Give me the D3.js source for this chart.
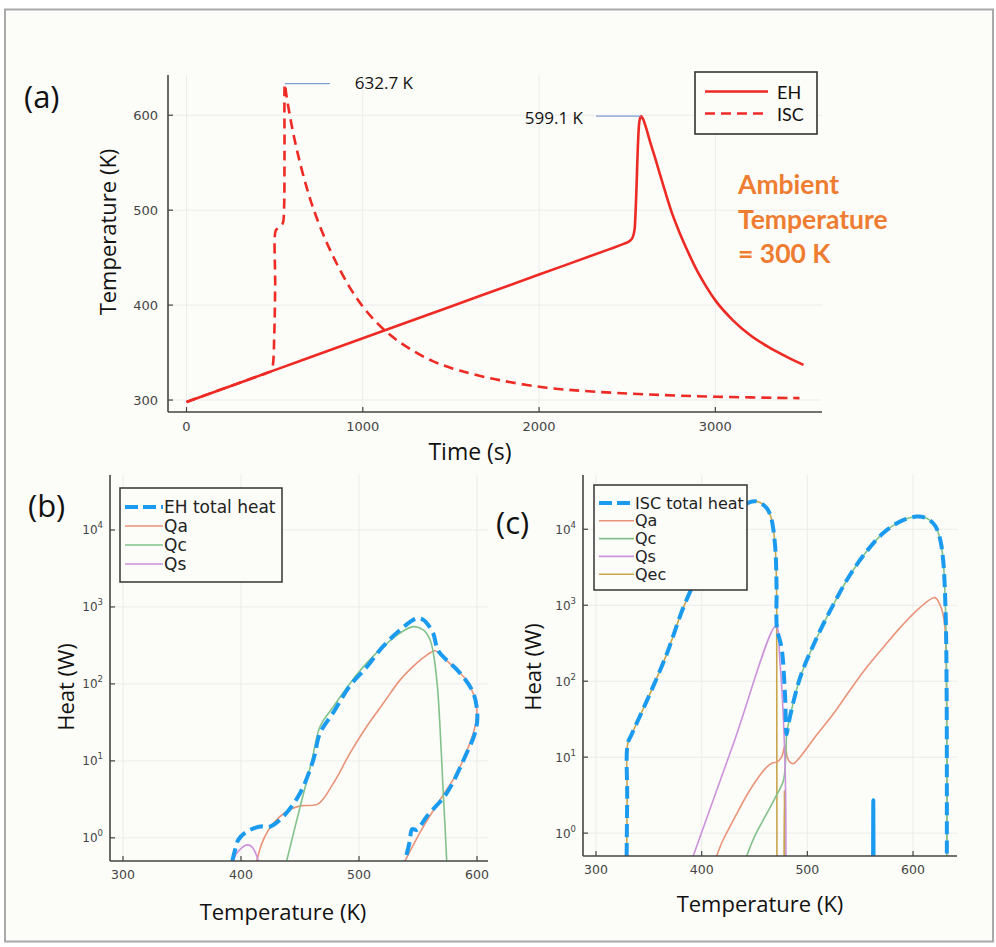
<!DOCTYPE html>
<html><head><meta charset="utf-8">
<script src="https://cdn.jsdelivr.net/npm/d3@7"></script>
<style>body{margin:0;background:#fff}svg{display:block}</style>
</head><body>
<svg id="chart" width="996" height="947"></svg>
<script>
// ---------- DATA ----------
// Panel (a): temperature vs time
const timeTicks = [0, 1000, 2000, 3000];
const tempTicks = [300, 400, 500, 600];
const ehTemp = [[0,298],[500,331.5],[1000,365],[1500,398.6],[2000,432.2],[2400,459],[2480,464.5],[2510,467],[2530,471],[2542,480],[2552,520],[2560,565],[2568,592],[2578,599.1],[2590,596],[2605,588],[2630,572],[2660,554],[2700,529],[2750,499],[2800,475],[2850,454],[2900,435],[2950,419],[3000,405],[3100,384],[3200,368],[3300,356],[3400,346],[3500,337]];
const iscTemp = [[0,298],[240,314.1],[470,329.6],[480,330.5],[490,337],[498,370],[503,420],[505,478],[515,480.5],[527,482.7],[546,486.3],[553,500],[556,560],[558,632.7],[566,622],[584,602],[610,577],[641,552],[680,525],[717,503],[770,477],[830,452],[925,419],[1019,394],[1133,372],[1250,356],[1397,341],[1550,331],[1775,321],[2042,313],[2300,309],[2609,306],[3000,303.5],[3477,302]];
const peakLabels = [{t:558, T:632.7, text:"632.7 K"}, {t:2578, T:599.1, text:"599.1 K"}];

// Panel (b): EH heat vs temperature
const tempTicksB = [300, 400, 500, 600];
const heatTicks = [0, 1, 2, 3, 4]; // exponents of 10
const ehTotal = [[392.6,0.5],[395,0.7],[397.7,0.94],[404.8,1.2],[416,1.4],[424.6,1.4],[435.9,1.9],[450,3.8],[461.3,10.3],[467,23],[478,42],[492,93],[506.5,166],[520,302],[534.7,502],[548.9,710],[554.5,680],[562.7,460],[565.8,302],[568.6,251],[585.6,138],[596.9,76],[600.3,38],[598.3,23],[591.2,12.6],[574.3,3.8],[557.4,1.9],[548.9,1.27],[545,1.3],[543,0.9],[539,0.5]];
const ehQa = [[413.3,0.5],[418.9,0.94],[427.4,1.55],[438.7,2.2],[450,2.6],[465.5,2.76],[478.2,5.1],[492.4,12.6],[506.5,28],[520.6,56],[534.7,112],[548.9,186],[558,240],[564.4,270],[572,215],[580,167],[591,112],[597.5,70],[599.7,51],[598.9,31],[594,17],[582.8,6.9],[568.6,3.1],[554.5,1.4],[538.9,0.5]];
const ehQc = [[438.7,0.5],[450,2.5],[460,10],[467,28],[478,50],[492,100],[506.5,186],[520,300],[534.7,457],[546,555],[554.5,502],[560,380],[563,251],[566.5,90],[568.6,28],[571,5],[572.9,1.4],[574.3,0.5]];
const ehQs = [[393.5,0.5],[396,0.62],[399,0.7],[403,0.79],[406,0.81],[409,0.77],[411,0.7],[413,0.6],[414.7,0.5]];

// Panel (c): ISC heat vs temperature
const iscTotal = [[329,0.5],[329.5,3],[330,15],[333.8,20],[351,68],[366.9,227],[382.6,930],[398.4,2800],[414.2,6900],[430,15500],[445.7,22800],[453.5,23000],[461.5,19000],[465.5,14500],[467.7,10200],[469.5,6000],[470.3,3800],[470.9,1500],[471.2,504],[475.6,275],[478.8,68],[480.4,20],[482,27],[493.2,112],[508.9,373],[524.6,1020],[540.3,2500],[556,5100],[571.8,8900],[587.6,12600],[603.4,14700],[612.9,14000],[619,12000],[622.3,10300],[626,7000],[628.6,3800],[630.8,830],[631.8,68],[632,0.5]];
const iscSpike = [[562.2,0.5],[562.4,2.7],[562.6,0.5]];
const iscQa = [[414.2,0.5],[420,0.8],[430,1.48],[445.7,3.7],[461.5,7.4],[467,8.4],[470.9,8.6],[475.6,10],[478.8,14.2],[481,10],[483.5,8.6],[486.7,8.2],[493,10],[508,19],[524.5,37],[540,75],[556,151],[572,280],[587.6,504],[606.5,930],[620.7,1260],[625.4,1020],[628,800],[630.2,504],[631.8,68],[632,0.5]];
const iscQc = [[442.6,0.5],[450,0.9],[461.5,1.8],[470,3],[477.3,4.9],[479.5,10],[480.4,20],[482,27],[493.2,112],[508.9,373],[524.6,1020],[540.3,2500],[556,5100],[571.8,8900],[587.6,12600],[603.4,14700],[612.9,14000],[619,12000],[622.3,10300],[626,7000],[628.6,3800],[630.8,830],[631.8,68],[632,0.5]];
const iscQs = [[392,0.5],[430,15],[470.3,535],[474,185],[478.8,9],[479.7,0.5]];
const iscQec = [[329,0.5],[329.5,3],[330,15],[333.8,20],[351,68],[366.9,227],[382.6,930],[398.4,2800],[414.2,6900],[430,15500],[445.7,22800],[453.5,23000],[461.5,19000],[465.5,14500],[467.7,10200],[469.5,6000],[470.3,3800],[470.9,1500],[471.0,504],[471.2,0.5]];
const iscQecSpike = [[478,0.5],[478.3,3.6],[478.6,0.5]];

// ---------- STYLE ----------
const C = {total:"#1b9bef", qa:"#e99379", qc:"#82c28a", qs:"#cc92dc", qec:"#c9a54c", red:"#ee2a24", axis:"#444", grid:"#ececec", tick:"#444"};
const svg = d3.select("#chart");
svg.append("rect").attr("x",0).attr("y",0).attr("width",996).attr("height",947).attr("fill","#fff");
svg.append("rect").attr("x",5).attr("y",9.5).attr("width",988).attr("height",932).attr("fill","#fcfcf8").attr("stroke","#a9a9a9").attr("stroke-width",2);

let clipId = 0;
function frame(x, y, x0, x1, y0, y1, xTicks, yTicks) {
  const g = svg.append("g");
  g.selectAll(".gx").data(xTicks).join("line").attr("x1",d=>x(d)).attr("x2",d=>x(d)).attr("y1",y0).attr("y2",y1).attr("stroke",C.grid).attr("stroke-width",1);
  g.selectAll(".gy").data(yTicks).join("line").attr("y1",d=>y(d)).attr("y2",d=>y(d)).attr("x1",x0).attr("x2",x1).attr("stroke",C.grid).attr("stroke-width",1);
  const id = "clip" + (clipId++);
  svg.append("clipPath").attr("id",id).append("rect").attr("x",x0).attr("y",y1).attr("width",x1-x0).attr("height",y0-y1);
  return {g, id};
}
function axes(x, y, x0, x1, y0, y1, xTicks, yTicks, yLabelFn, opt) {
  const g = svg.append("g");
  g.append("line").attr("x1",x0).attr("x2",x1).attr("y1",y0).attr("y2",y0).attr("stroke",C.axis).attr("stroke-width",1.6);
  g.append("line").attr("x1",x0).attr("x2",x0).attr("y1",y0).attr("y2",y1).attr("stroke",C.axis).attr("stroke-width",1.6);
  g.selectAll(".tx").data(xTicks).join("line").attr("x1",d=>x(d)).attr("x2",d=>x(d)).attr("y1",y0).attr("y2",y0-5).attr("stroke",C.axis).attr("stroke-width",1.2);
  g.selectAll(".ty").data(yTicks).join("line").attr("y1",d=>y(d)).attr("y2",d=>y(d)).attr("x1",x0).attr("x2",x0+5).attr("stroke",C.axis).attr("stroke-width",1.2);
  g.selectAll(".lx").data(xTicks).join("text").attr("x",d=>x(d)).attr("y",y0+opt.xLabDy).attr("text-anchor","middle")
    .attr("font-family","DejaVu Sans, sans-serif").attr("font-size",opt.fs).attr("fill",C.tick).text(d=>d);
  const ly = g.selectAll(".ly").data(yTicks).join("text").attr("x",x0-opt.yLabDx).attr("y",d=>y(d)+opt.fs*0.36).attr("text-anchor","end")
    .attr("font-family","DejaVu Sans, sans-serif").attr("font-size",opt.fs).attr("fill",C.tick);
  yLabelFn(ly);
}
function label(x, y, text, size, rotate) {
  const t = svg.append("text").attr("x",x).attr("y",y).attr("text-anchor","middle").attr("dominant-baseline","central")
    .attr("font-family","'Open Sans', sans-serif").attr("font-size",size).attr("fill","#111").text(text);
  if (rotate) t.attr("transform",`rotate(-90,${x},${y})`);
  return t;
}

// ---------- PANEL (a) ----------
{
  const x0=168, x1=822, y0=412, y1=75;
  const x = d3.scaleLinear().domain([-105,3605]).range([x0,x1]);
  const y = d3.scaleLinear().domain([287.4,642.4]).range([y0,y1]);
  const f = frame(x,y,x0,x1,y0,y1,timeTicks,tempTicks);
  const line = d3.line().x(d=>x(d[0])).y(d=>y(d[1])).curve(d3.curveMonotoneX);
  const lg = svg.append("g").attr("clip-path",`url(#${f.id})`);
  lg.append("path").attr("d",line(ehTemp)).attr("fill","none").attr("stroke",C.red).attr("stroke-width",2.6);
  lg.append("path").attr("d",d3.line().x(d=>x(d[0])).y(d=>y(d[1])).curve(d3.curveCatmullRom.alpha(0.5))(iscTemp)).attr("fill","none").attr("stroke",C.red).attr("stroke-width",2.6).attr("stroke-dasharray","10,6");
  axes(x,y,x0,x1,y0,y1,timeTicks,tempTicks,s=>s.text(d=>d),{fs:13,xLabDy:19,yLabDx:10});
  // peak annotations
  const pk = svg.append("g");
  pk.append("line").attr("x1",x(peakLabels[0].t)).attr("x2",x(peakLabels[0].t)+45).attr("y1",y(peakLabels[0].T)-0.5).attr("y2",y(peakLabels[0].T)-0.5).attr("stroke","#7f9ed4").attr("stroke-width",1.3);
  pk.append("text").attr("x",x(peakLabels[0].t)+70).attr("y",y(peakLabels[0].T)-2).attr("dominant-baseline","central").attr("font-family","'Open Sans', sans-serif").attr("font-size",17).attr("fill","#111").text(peakLabels[0].text);
  pk.append("line").attr("x1",x(peakLabels[1].t)-45).attr("x2",x(peakLabels[1].t)).attr("y1",y(peakLabels[1].T)).attr("y2",y(peakLabels[1].T)).attr("stroke","#7f9ed4").attr("stroke-width",1.3);
  pk.append("text").attr("x",x(peakLabels[1].t)-58).attr("y",y(peakLabels[1].T)+1).attr("text-anchor","end").attr("dominant-baseline","central").attr("font-family","'Open Sans', sans-serif").attr("font-size",17).attr("fill","#111").text(peakLabels[1].text);
  // legend
  const L = svg.append("g");
  L.append("rect").attr("x",695).attr("y",72).attr("width",122).attr("height",62).attr("fill","#fcfcf8").attr("stroke","#333").attr("stroke-width",1.6);
  L.append("line").attr("x1",705).attr("x2",768).attr("y1",91.5).attr("y2",91.5).attr("stroke",C.red).attr("stroke-width",2.6);
  L.append("line").attr("x1",705).attr("x2",768).attr("y1",113.5).attr("y2",113.5).attr("stroke",C.red).attr("stroke-width",2.6).attr("stroke-dasharray","10,6");
  L.append("text").attr("x",777).attr("y",91.5).attr("dominant-baseline","central").attr("font-family","Lato, sans-serif").attr("font-size",18).attr("fill","#111").text("EH");
  L.append("text").attr("x",777).attr("y",113.5).attr("dominant-baseline","central").attr("font-family","Lato, sans-serif").attr("font-size",18).attr("fill","#111").text("ISC");
  // ambient
  ["Ambient","Temperature","= 300 K"].forEach((t,i)=>{
    svg.append("text").attr("x",738).attr("y",184+i*34.5).attr("dominant-baseline","central").attr("font-family","Lato, sans-serif").attr("font-weight","bold").attr("font-size",26.5).attr("fill","#ee7d31").text(t);
  });
  label(107,232,"Temperature (K)",22,true);
  label(470,451,"Time (s)",23,false);
  svg.append("text").attr("x",24).attr("y",96).attr("dominant-baseline","central").attr("font-family","'Open Sans', sans-serif").attr("font-size",31).attr("fill","#111").text("(a)");
}

function heatPanel(opt){
  const {x0,x1,y0,y1,xdom,series,legend} = opt;
  const x = d3.scaleLinear().domain(xdom).range([x0,x1]);
  const y = d3.scaleLog().domain([0.5,51800]).range([y0,y1]);
  const yT = heatTicks.map(e=>Math.pow(10,e));
  const f = frame(x,y,x0,x1,y0,y1,tempTicksB,yT);
  const line = d3.line().x(d=>x(d[0])).y(d=>y(d[1])).curve(d3.curveCatmullRom.alpha(0.5));
  const lg = svg.append("g").attr("clip-path",`url(#${f.id})`);
  series.forEach(s=>{
    lg.append("path").attr("d",line(s.data)).attr("fill","none").attr("stroke",s.color).attr("stroke-width",s.w).attr("stroke-dasharray",s.dash||null).attr("stroke-linejoin","round");
  });
  axes(x,y,x0,x1,y0,y1,tempTicksB,yT,s=>{s.attr("font-size",12).each(function(d,i){
    const t=d3.select(this); t.text(null);
    t.append("tspan").text("10");
    t.append("tspan").attr("dy",-6).attr("font-size",8.5).text(heatTicks[i]);
  });},{fs:12.5,xLabDy:18,yLabDx:7});
  // legend
  const L = svg.append("g");
  L.append("rect").attr("x",legend.x).attr("y",legend.y).attr("width",legend.w).attr("height",legend.h).attr("fill","#fcfcf8").attr("stroke","#333").attr("stroke-width",1.5);
  legend.items.forEach((it,i)=>{
    const yy = legend.y + legend.first + i*legend.step;
    L.append("line").attr("x1",legend.x+5).attr("x2",legend.x+legend.lw).attr("y1",yy).attr("y2",yy).attr("stroke",it.color).attr("stroke-width",it.w).attr("stroke-dasharray",it.dash||null);
    L.append("text").attr("x",legend.x+legend.lw+1).attr("y",yy).attr("dominant-baseline","central").attr("font-family","DejaVu Sans, sans-serif").attr("font-size",legend.fs).attr("fill","#222").text(it.name);
  });
}

// ---------- PANEL (b) ----------
heatPanel({x0:110,x1:488,y0:861,y1:475,xdom:[289,609.3],
  series:[
    {data:ehQa,color:C.qa,w:1.6},
    {data:ehQc,color:C.qc,w:1.6},
    {data:ehQs,color:C.qs,w:1.6},
    {data:ehTotal,color:C.total,w:4,dash:"13,6"}
  ],
  legend:{x:120,y:488,w:162,h:94,first:19,step:19,lw:43,fs:17,items:[
    {name:"EH total heat",color:C.total,w:4,dash:"13,5"},
    {name:"Qa",color:C.qa,w:1.6},{name:"Qc",color:C.qc,w:1.6},{name:"Qs",color:C.qs,w:1.6}]}
});
label(283,911,"Temperature (K)",22,false);
label(65,687,"Heat (W)",22,true);
svg.append("text").attr("x",28).attr("y",505).attr("dominant-baseline","central").attr("font-family","'Open Sans', sans-serif").attr("font-size",31).attr("fill","#111").text("(b)");

// ---------- PANEL (c) ----------
heatPanel({x0:583,x1:957,y0:856,y1:475,xdom:[287.7,641.6],
  series:[
    {data:iscQec,color:C.qec,w:1.6},
    {data:iscQecSpike,color:C.qec,w:1.6},
    {data:iscQa,color:C.qa,w:1.6},
    {data:iscQc,color:C.qc,w:1.6},
    {data:iscQs,color:C.qs,w:1.6},
    {data:iscTotal,color:C.total,w:4,dash:"13,6"},
    {data:iscSpike,color:C.total,w:4}
  ],
  legend:{x:594,y:485,w:153,h:105,first:18,step:17.8,lw:40,fs:16,items:[
    {name:"ISC total heat",color:C.total,w:4,dash:"13,5"},
    {name:"Qa",color:C.qa,w:1.6},{name:"Qc",color:C.qc,w:1.6},{name:"Qs",color:C.qs,w:1.6},{name:"Qec",color:C.qec,w:1.6}]}
});
label(760,903,"Temperature (K)",22,false);
label(532,667,"Heat (W)",22,true);
svg.append("text").attr("x",496).attr("y",522).attr("dominant-baseline","central").attr("font-family","'Open Sans', sans-serif").attr("font-size",31).attr("fill","#111").text("(c)");
</script>
</body></html>
